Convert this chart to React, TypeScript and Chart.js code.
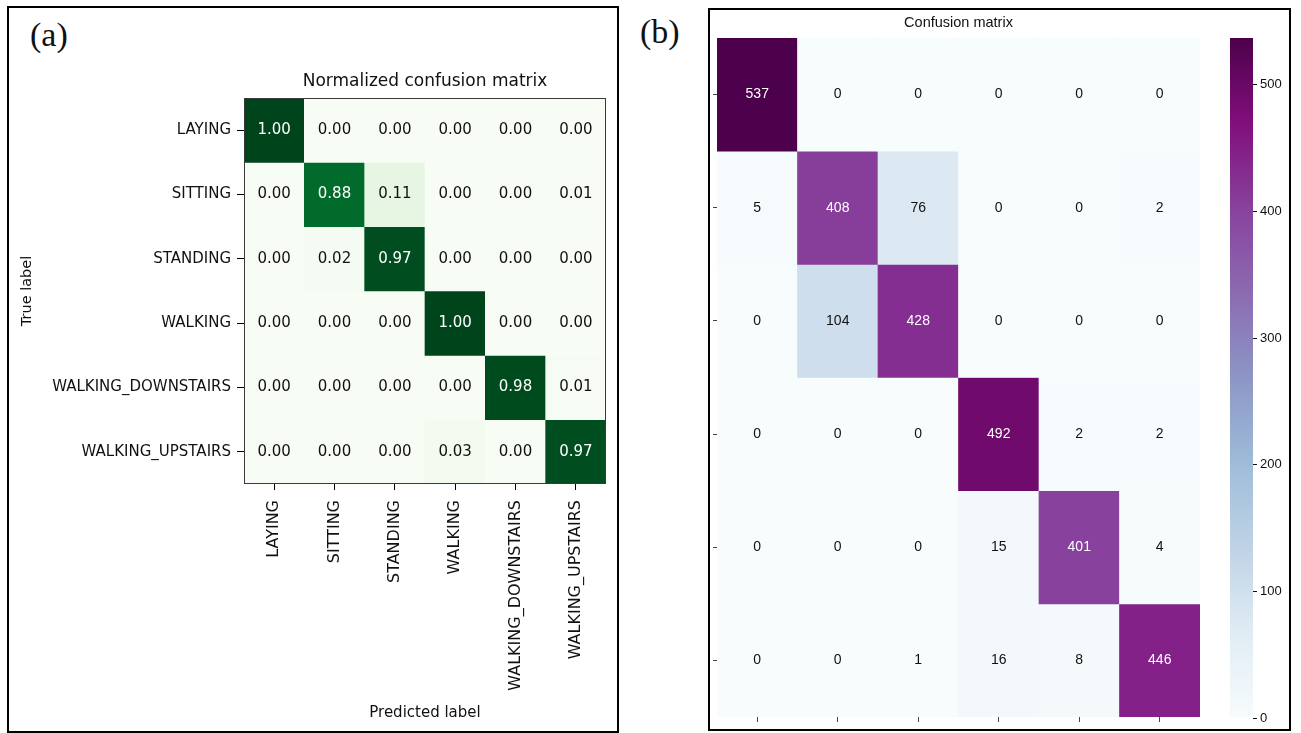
import React, { useEffect, useRef } from 'react';
import { Chart, registerables } from 'chart.js';

Chart.register(...registerables);

// ---------- data ----------
const activityLabels = ['LAYING', 'SITTING', 'STANDING', 'WALKING', 'WALKING_DOWNSTAIRS', 'WALKING_UPSTAIRS'];

// (a) normalized confusion matrix, one array per true label
const normLaying = [1.0, 0.0, 0.0, 0.0, 0.0, 0.0];
const normSitting = [0.0, 0.88, 0.11, 0.0, 0.0, 0.01];
const normStanding = [0.0, 0.02, 0.97, 0.0, 0.0, 0.0];
const normWalking = [0.0, 0.0, 0.0, 1.0, 0.0, 0.0];
const normDownstairs = [0.0, 0.0, 0.0, 0.0, 0.98, 0.01];
const normUpstairs = [0.0, 0.0, 0.0, 0.03, 0.0, 0.97];

// (b) confusion matrix counts, one array per row
const countRow1 = [537, 0, 0, 0, 0, 0];
const countRow2 = [5, 408, 76, 0, 0, 2];
const countRow3 = [0, 104, 428, 0, 0, 0];
const countRow4 = [0, 0, 0, 492, 2, 2];
const countRow5 = [0, 0, 0, 15, 401, 4];
const countRow6 = [0, 0, 1, 16, 8, 446];

const colorbarTicks = [0, 100, 200, 300, 400, 500];
const countMin = 0;
const countMax = 537;

const titleA = 'Normalized confusion matrix';
const titleB = 'Confusion matrix';
const xTitleA = 'Predicted label';
const yTitleA = 'True label';

// ---------- colormaps ----------
const GREENS = ['#f7fcf5', '#e5f5e0', '#c7e9c0', '#a1d99b', '#74c476', '#41ab5d', '#238b45', '#006d2c', '#00441b'];
const BUPU = ['#f7fcfd', '#e0ecf4', '#bfd3e6', '#9ebcda', '#8c96c6', '#8c6bb1', '#88419d', '#810f7c', '#4d004b'];

function hexRgb(h: string) {
  return [parseInt(h.slice(1, 3), 16), parseInt(h.slice(3, 5), 16), parseInt(h.slice(5, 7), 16)];
}
function colorAt(stops: string[], t: number) {
  const tt = Math.max(0, Math.min(1, t));
  const n = stops.length - 1;
  const p = tt * n;
  const i = Math.min(Math.floor(p), n - 1);
  const f = p - i;
  const a = hexRgb(stops[i]);
  const b = hexRgb(stops[i + 1]);
  const c = a.map((v, k) => Math.round(v + (b[k] - v) * f));
  return `rgb(${c[0]},${c[1]},${c[2]})`;
}

// ---------- plugins ----------
function makeCellText(values: number[][], fmt: (v: number) => string, isDark: (v: number) => boolean, font: string) {
  return {
    id: 'cellText',
    afterDatasetsDraw(chart: any) {
      const ctx = chart.ctx;
      ctx.save();
      ctx.font = font;
      ctx.textAlign = 'center';
      ctx.textBaseline = 'middle';
      values.forEach((row, r) => {
        const meta = chart.getDatasetMeta(r);
        row.forEach((v, c) => {
          const el = meta.data[c];
          if (!el) return;
          const p = el.getCenterPoint();
          ctx.fillStyle = isDark(v) ? '#ffffff' : '#111111';
          ctx.fillText(fmt(v), p.x, p.y);
        });
      });
      ctx.restore();
    },
  };
}

function makeTitle(text: string, font: string, y: number) {
  return {
    id: 'areaTitle',
    afterDraw(chart: any) {
      const ctx = chart.ctx;
      const a = chart.chartArea;
      ctx.save();
      ctx.font = font;
      ctx.fillStyle = '#111111';
      ctx.textAlign = 'center';
      ctx.textBaseline = 'middle';
      ctx.fillText(text, (a.left + a.right) / 2, y);
      ctx.restore();
    },
  };
}

function makeFrame(color: string, width: number) {
  return {
    id: 'areaFrame',
    afterDatasetsDraw(chart: any) {
      const ctx = chart.ctx;
      const a = chart.chartArea;
      ctx.save();
      ctx.strokeStyle = color;
      ctx.lineWidth = width;
      ctx.strokeRect(a.left + 0.5, a.top + 0.5, a.right - a.left - 1, a.bottom - a.top - 1);
      ctx.restore();
    },
  };
}

function cellDatasets(rows: number[][], stops: string[], vmin: number, vmax: number) {
  return rows.map((row, r) => ({
    data: row.map(() => [r - 0.5, r + 0.5]),
    backgroundColor: row.map((v) => colorAt(stops, (v - vmin) / (vmax - vmin))),
    borderWidth: 0,
    grouped: false,
    barPercentage: 1,
    categoryPercentage: 1,
  }));
}

const rowTicks = (scale: any) => {
  scale.ticks = activityLabels.map((_, i) => ({ value: i }));
};

// ---------- charts ----------
function makeChartA(canvas: HTMLCanvasElement) {
  const rows = [normLaying, normSitting, normStanding, normWalking, normDownstairs, normUpstairs];
  return new Chart(canvas, {
    type: 'bar',
    data: { labels: activityLabels, datasets: cellDatasets(rows, GREENS, 0, 1) as any },
    options: {
      responsive: false,
      animation: false,
      events: [],
      layout: { padding: { top: 98, right: 14, left: 0, bottom: 0 } },
      plugins: { legend: { display: false }, tooltip: { enabled: false }, title: { display: false } },
      scales: {
        x: {
          type: 'category',
          offset: true,
          grid: { display: true, drawOnChartArea: false, drawTicks: true, tickLength: 6, color: '#000', offset: false },
          border: { display: false },
          ticks: {
            autoSkip: false,
            minRotation: 90,
            maxRotation: 90,
            padding: 10,
            color: '#111',
            font: { family: "'DejaVu Sans'", size: 16 },
          },
          title: {
            display: true,
            text: xTitleA,
            color: '#111',
            font: { family: "'DejaVu Sans'", size: 15 },
            padding: { top: 0, bottom: 11 },
          },
          afterFit: (s: any) => { s.height = 249; },
        },
        y: {
          type: 'linear',
          min: -0.5,
          max: 5.5,
          reverse: true,
          afterBuildTicks: rowTicks,
          grid: { display: true, drawOnChartArea: false, drawTicks: true, tickLength: 7, color: '#000' },
          border: { display: false },
          ticks: {
            padding: 6,
            color: '#111',
            font: { family: "'DejaVu Sans'", size: 15 },
            callback: (v: any) => activityLabels[Math.round(Number(v))] ?? '',
          },
          title: {
            display: true,
            text: yTitleA,
            color: '#111',
            font: { family: "'DejaVu Sans'", size: 14.5 },
            padding: { top: 19, bottom: 0 },
          },
          afterFit: (s: any) => { s.width = 244; },
        },
      },
    } as any,
    plugins: [
      makeCellText(rows, (v) => v.toFixed(2), (v) => v > 0.5, "15px 'DejaVu Sans'"),
      makeFrame('#3a3a3a', 1),
      makeTitle(titleA, "17px 'DejaVu Sans'", 82),
    ] as any,
  });
}

function makeChartB(canvas: HTMLCanvasElement) {
  const rows = [countRow1, countRow2, countRow3, countRow4, countRow5, countRow6];
  return new Chart(canvas, {
    type: 'bar',
    data: { labels: activityLabels, datasets: cellDatasets(rows, BUPU, countMin, countMax) as any },
    options: {
      responsive: false,
      animation: false,
      events: [],
      layout: { padding: { top: 38, right: 16, left: 0, bottom: 0 } },
      plugins: { legend: { display: false }, tooltip: { enabled: false }, title: { display: false } },
      scales: {
        x: {
          type: 'category',
          offset: true,
          grid: { display: true, drawOnChartArea: false, drawTicks: true, tickLength: 5, color: '#444', offset: false },
          border: { display: false },
          ticks: { autoSkip: false, maxRotation: 0, callback: () => '' },
          afterFit: (s: any) => { s.height = 16; },
        },
        y: {
          type: 'linear',
          min: -0.5,
          max: 5.5,
          reverse: true,
          afterBuildTicks: rowTicks,
          grid: { display: true, drawOnChartArea: false, drawTicks: true, tickLength: 4, color: '#444' },
          border: { display: false },
          ticks: { callback: () => '' },
          afterFit: (s: any) => { s.width = 17; },
        },
      },
    } as any,
    plugins: [
      makeCellText(rows, (v) => String(v), (v) => v > 260, "14px 'Liberation Sans'"),
      makeTitle(titleB, "14.5px 'Liberation Sans'", 23),
    ] as any,
  });
}

function makeColorbar(canvas: HTMLCanvasElement) {
  return new Chart(canvas, {
    type: 'bar',
    data: {
      labels: ['scale'],
      datasets: [
        {
          data: [[countMin, countMax]],
          borderWidth: 0,
          barPercentage: 1,
          categoryPercentage: 1,
          backgroundColor: (ctx: any) => {
            const chart = ctx.chart;
            const area = chart.chartArea;
            if (!area) return BUPU[4];
            const ys = chart.scales.y;
            const y0 = ys.getPixelForValue(countMin);
            const y1 = ys.getPixelForValue(countMax);
            const g = chart.ctx.createLinearGradient(0, y0, 0, y1);
            BUPU.forEach((c, i) => g.addColorStop(i / (BUPU.length - 1), c));
            return g;
          },
        },
      ],
    },
    options: {
      responsive: false,
      animation: false,
      events: [],
      layout: { padding: { top: 38, right: 0, left: 10, bottom: 15 } },
      plugins: { legend: { display: false }, tooltip: { enabled: false } },
      scales: {
        x: { type: 'category', display: false, offset: true },
        y: {
          type: 'linear',
          position: 'right',
          min: countMin,
          max: countMax,
          afterBuildTicks: (s: any) => { s.ticks = colorbarTicks.map((v) => ({ value: v })); },
          grid: { display: true, drawOnChartArea: false, drawTicks: true, tickLength: 4, color: '#111' },
          border: { display: false },
          ticks: { padding: 3, color: '#111', font: { family: "'Liberation Sans'", size: 13 } },
          afterFit: (s: any) => { s.width = 37; },
        },
      },
    } as any,
  });
}

export default function App() {
  const aRef = useRef<HTMLCanvasElement>(null);
  const bRef = useRef<HTMLCanvasElement>(null);
  const cRef = useRef<HTMLCanvasElement>(null);

  useEffect(() => {
    const charts = [makeChartA(aRef.current!), makeChartB(bRef.current!), makeColorbar(cRef.current!)];
    return () => charts.forEach((c) => c.destroy());
  }, []);

  const abs = (l: number, t: number, w: number, h: number): React.CSSProperties => ({
    position: 'absolute', left: l, top: t, width: w, height: h,
  });

  return (
    <div style={{ ...abs(0, 0, 1301, 733), background: '#fff', overflow: 'hidden' }}>
      <div style={{ ...abs(7, 6, 612, 727), border: '2px solid #000', boxSizing: 'border-box' }} />
      <div style={{ ...abs(708, 8, 583, 723), border: '2px solid #000', boxSizing: 'border-box' }} />
      <div style={{ position: 'absolute', left: 30, top: 18, fontFamily: "'Liberation Serif', serif", fontSize: 34, lineHeight: 1, color: '#111' }}>(a)</div>
      <div style={{ position: 'absolute', left: 640, top: 15, fontFamily: "'Liberation Serif', serif", fontSize: 34, lineHeight: 1, color: '#111' }}>(b)</div>
      <canvas ref={aRef} width={620} height={733} style={{ ...abs(0, 0, 620, 733) }} />
      <canvas ref={bRef} width={516} height={733} style={{ ...abs(700, 0, 516, 733) }} />
      <canvas ref={cRef} width={70} height={733} style={{ ...abs(1220, 0, 70, 733) }} />
    </div>
  );
}
